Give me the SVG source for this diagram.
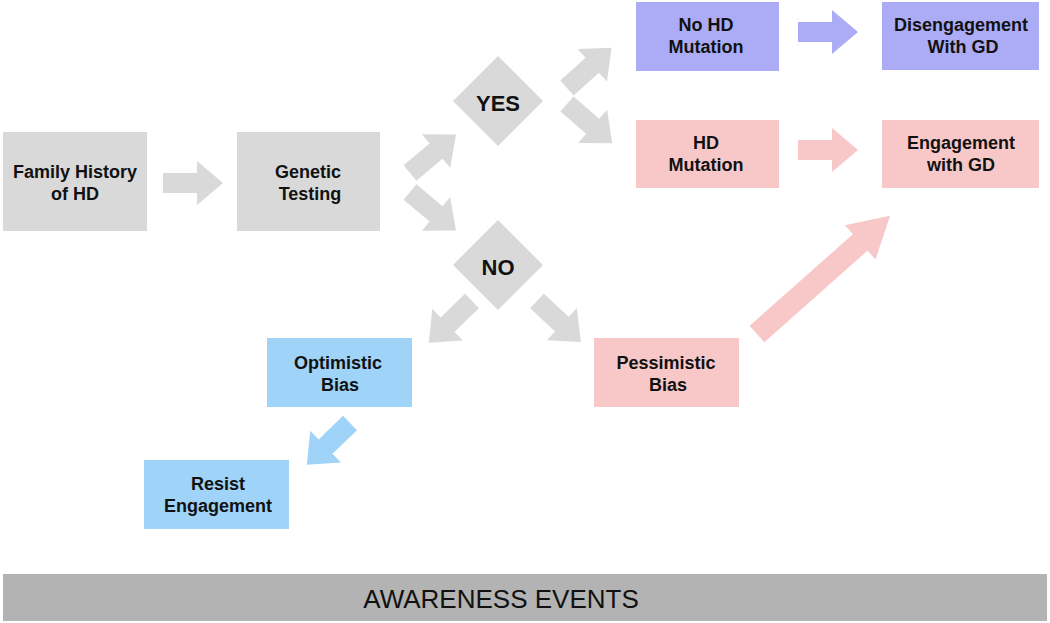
<svg xmlns="http://www.w3.org/2000/svg" xmlns:xlink="http://www.w3.org/1999/xlink" width="1050" height="623" viewBox="0 0 1050 623">
<style>
text{font-family:"Liberation Sans",Arial,sans-serif;fill:#111;text-anchor:middle}
.t{font-size:18px;font-weight:bold}
.d{font-size:22px;font-weight:bold}
.grey{fill:#d9d9d9}
.purple{fill:#acacf6}
.pink{fill:#f8c8c9}
.blue{fill:#9fd3f7}
</style>
<defs>
<polygon id="arr" points="0,-10 34,-10 34,-22 60,0 34,22 34,10 0,10"/>
</defs>
<rect x="0" y="0" width="1050" height="623" fill="#ffffff"/>
<g id="connectors">
<use xlink:href="#arr" class="grey" transform="translate(163,183)"/>
<use xlink:href="#arr" class="grey" transform="translate(410,173) rotate(-40)"/>
<use xlink:href="#arr" class="grey" transform="translate(410,192) rotate(40)"/>
<use xlink:href="#arr" class="grey" transform="translate(567,88) rotate(-42)"/>
<use xlink:href="#arr" class="grey" transform="translate(567,104) rotate(41)"/>
<use xlink:href="#arr" class="grey" transform="translate(472,301) rotate(136)"/>
<use xlink:href="#arr" class="grey" transform="translate(537,301) rotate(43)"/>
<use xlink:href="#arr" class="purple" transform="translate(798,32)"/>
<use xlink:href="#arr" class="pink" transform="translate(798,150)"/>
<use xlink:href="#arr" class="blue" transform="translate(350,423) rotate(136)"/>
<polygon class="pink" points="0,-11 138,-11 138,-23 178,0 138,23 138,11 0,11" transform="translate(757,334) rotate(-41.6)"/>
</g>
<g id="family">
<rect class="grey" x="3" y="132" width="144" height="99"/>
<text class="t" x="75" y="178">Family History</text>
<text class="t" x="75" y="200">of HD</text>
</g>
<g id="genetic">
<rect class="grey" x="237" y="132" width="143" height="99"/>
<text class="t" x="308" y="178">Genetic</text>
<text class="t" x="310" y="200">Testing</text>
</g>
<g id="yes">
<polygon class="grey" points="498,56 543,101 498,146 453,101"/>
<text class="d" x="498" y="111">YES</text>
</g>
<g id="no">
<polygon class="grey" points="498,220 543,265 498,310 453,265"/>
<text class="d" x="498" y="275">NO</text>
</g>
<g id="nohd">
<rect class="purple" x="636" y="2" width="143" height="69"/>
<text class="t" x="706" y="31">No HD</text>
<text class="t" x="706" y="53">Mutation</text>
</g>
<g id="diseng">
<rect class="purple" x="882" y="2" width="157" height="68"/>
<text class="t" x="961" y="31">Disengagement</text>
<text class="t" x="963" y="53">With GD</text>
</g>
<g id="hd">
<rect class="pink" x="636" y="120" width="143" height="68"/>
<text class="t" x="706" y="149">HD</text>
<text class="t" x="706" y="171">Mutation</text>
</g>
<g id="eng">
<rect class="pink" x="882" y="120" width="157" height="68"/>
<text class="t" x="961" y="149">Engagement</text>
<text class="t" x="961" y="171">with GD</text>
</g>
<g id="optimistic">
<rect class="blue" x="267" y="338" width="145" height="69"/>
<text class="t" x="338" y="369">Optimistic</text>
<text class="t" x="340" y="391">Bias</text>
</g>
<g id="pessimistic">
<rect class="pink" x="594" y="338" width="145" height="69"/>
<text class="t" x="666" y="369">Pessimistic</text>
<text class="t" x="668" y="391">Bias</text>
</g>
<g id="resist">
<rect class="blue" x="144" y="460" width="145" height="69"/>
<text class="t" x="218" y="490">Resist</text>
<text class="t" x="218" y="512">Engagement</text>
</g>
<g id="awareness">
<rect x="3" y="574" width="1044" height="47" fill="#b3b3b3"/>
<text x="501" y="608" style="font-size:26px">AWARENESS EVENTS</text>
</g>
</svg>
